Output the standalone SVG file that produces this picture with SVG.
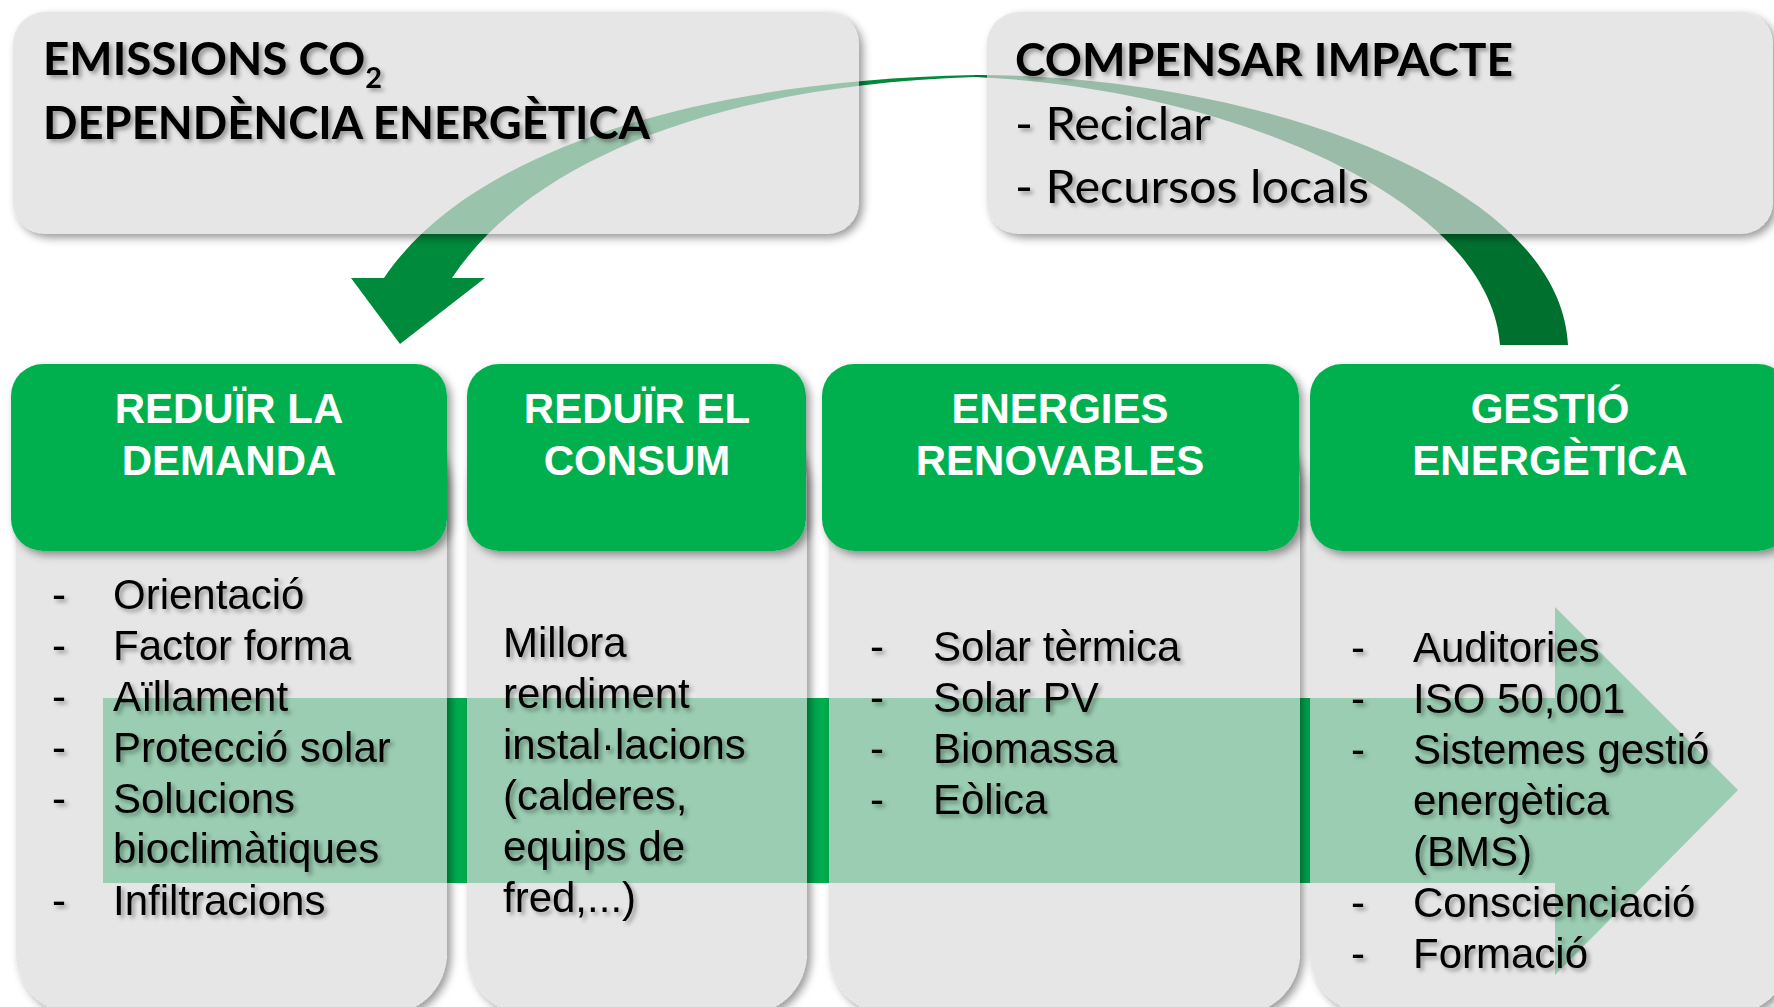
<svg xmlns="http://www.w3.org/2000/svg" width="1774" height="1007" viewBox="0 0 1774 1007">
<style>
.panel{fill:#DCDCDC;fill-opacity:0.7}
.head{fill:#00B050}
.ht{font-family:"Liberation Sans",Arial,sans-serif;font-weight:bold;font-size:42px;fill:#FFFFFF;text-anchor:middle}
.bt{font-family:"Liberation Sans",Arial,sans-serif;font-size:42px;fill:#000000}
.tt{font-family:Lato,"Open Sans",sans-serif;font-size:46px;fill:#000000}
.tb{font-weight:bold}
</style>
<defs>
<filter id="bs" x="-5%" y="-5%" width="112%" height="115%">
<feComponentTransfer in="SourceAlpha" result="m"><feFuncA type="discrete" tableValues="0 1"/></feComponentTransfer>
<feGaussianBlur in="m" stdDeviation="4" result="b"/>
<feOffset in="b" dx="4" dy="4" result="o"/>
<feComposite in="o" in2="m" operator="out" result="s"/>
<feColorMatrix in="s" type="matrix" values="0 0 0 0 0  0 0 0 0 0  0 0 0 0 0  0 0 0 0.4 0" result="sc"/>
<feMerge><feMergeNode in="sc"/><feMergeNode in="SourceGraphic"/></feMerge>
</filter>
<filter id="ts" x="-5%" y="-10%" width="115%" height="130%">
<feDropShadow dx="3" dy="3" stdDeviation="2" flood-color="#000000" flood-opacity="0.35"/>
</filter>
</defs>
<rect width="1774" height="1007" fill="#FFFFFF"/>

<g id="connectors">
<polygon id="flow-arrow" fill="#00AC4F" points="103,698 1555,698 1555,607 1738,790 1555,975 1555,883 103,883"/>
<path id="cycle-arrow-back" fill="#00702F" d="M975,75 C1250,75 1560,180 1568,345 L1500,345 C1490,200 1230,88 975,77 Z"/>
<path id="cycle-arrow-front" fill="#008A3C" d="M975,75 C700,80 470,150 384,278 L351,278 L400,344 L485,278 L452,278 C530,160 720,85 975,77 Z"/>
</g>

<g id="node-emissions">
<rect class="panel" x="13" y="12" width="846" height="222" rx="32" filter="url(#bs)"/>
<g filter="url(#ts)">
<text class="tt tb" x="43" y="75" textLength="339" lengthAdjust="spacingAndGlyphs">EMISSIONS CO<tspan font-size="29" dy="13">2</tspan></text>
<text class="tt tb" x="43" y="139" textLength="607" lengthAdjust="spacingAndGlyphs">DEPENDÈNCIA ENERGÈTICA</text>
</g>
</g>

<g id="node-compensar">
<rect class="panel" x="987" y="12" width="786" height="222" rx="32" filter="url(#bs)"/>
<g filter="url(#ts)">
<text class="tt tb" x="1015" y="76" textLength="498" lengthAdjust="spacingAndGlyphs">COMPENSAR IMPACTE</text>
<text class="tt" x="1015" y="140" textLength="196" lengthAdjust="spacingAndGlyphs">- Reciclar</text>
<text class="tt" x="1015" y="203" textLength="354" lengthAdjust="spacingAndGlyphs">- Recursos locals</text>
</g>
</g>

<g id="node-reduir-demanda">
<rect class="panel" x="16" y="420" width="431" height="595" rx="62" filter="url(#bs)"/>
<rect class="head" x="11" y="364" width="436" height="187" rx="32" filter="url(#bs)"/>
<text class="ht" x="229" y="423">REDUÏR LA</text>
<text class="ht" x="229" y="475">DEMANDA</text>
<g class="bt" filter="url(#ts)">
<text x="52" y="609">-</text><text x="113" y="609">Orientació</text>
<text x="52" y="660">-</text><text x="113" y="660">Factor forma</text>
<text x="52" y="711">-</text><text x="113" y="711">Aïllament</text>
<text x="52" y="762">-</text><text x="113" y="762">Protecció solar</text>
<text x="52" y="813">-</text><text x="113" y="813">Solucions</text>
<text x="113" y="863">bioclimàtiques</text>
<text x="52" y="915">-</text><text x="113" y="915">Infiltracions</text>
</g>
</g>

<g id="node-reduir-consum">
<rect class="panel" x="467" y="420" width="340" height="595" rx="62" filter="url(#bs)"/>
<rect class="head" x="467" y="364" width="339" height="187" rx="32" filter="url(#bs)"/>
<text class="ht" x="637" y="423">REDUÏR EL</text>
<text class="ht" x="637" y="475">CONSUM</text>
<g class="bt" filter="url(#ts)">
<text x="503" y="657">Millora</text>
<text x="503" y="708">rendiment</text>
<text x="503" y="759">instal·lacions</text>
<text x="503" y="810">(calderes,</text>
<text x="503" y="861">equips de</text>
<text x="503" y="912">fred,...)</text>
</g>
</g>

<g id="node-renovables">
<rect class="panel" x="829" y="420" width="471" height="595" rx="62" filter="url(#bs)"/>
<rect class="head" x="822" y="364" width="477" height="187" rx="32" filter="url(#bs)"/>
<text class="ht" x="1060" y="423">ENERGIES</text>
<text class="ht" x="1060" y="475">RENOVABLES</text>
<g class="bt" filter="url(#ts)">
<text x="870" y="661">-</text><text x="933" y="661">Solar tèrmica</text>
<text x="870" y="712">-</text><text x="933" y="712">Solar PV</text>
<text x="870" y="763">-</text><text x="933" y="763">Biomassa</text>
<text x="870" y="814">-</text><text x="933" y="814">Eòlica</text>
</g>
</g>

<g id="node-gestio">
<rect class="panel" x="1310" y="420" width="480" height="595" rx="62" filter="url(#bs)"/>
<rect class="head" x="1310" y="364" width="480" height="187" rx="32" filter="url(#bs)"/>
<text class="ht" x="1550" y="423">GESTIÓ</text>
<text class="ht" x="1550" y="475">ENERGÈTICA</text>
<g class="bt" filter="url(#ts)">
<text x="1351" y="662">-</text><text x="1413" y="662">Auditories</text>
<text x="1351" y="713">-</text><text x="1413" y="713">ISO 50,001</text>
<text x="1351" y="764">-</text><text x="1413" y="764">Sistemes gestió</text>
<text x="1413" y="815">energètica</text>
<text x="1413" y="866">(BMS)</text>
<text x="1351" y="917">-</text><text x="1413" y="917">Conscienciació</text>
<text x="1351" y="968">-</text><text x="1413" y="968">Formació</text>
</g>
</g>
</svg>
